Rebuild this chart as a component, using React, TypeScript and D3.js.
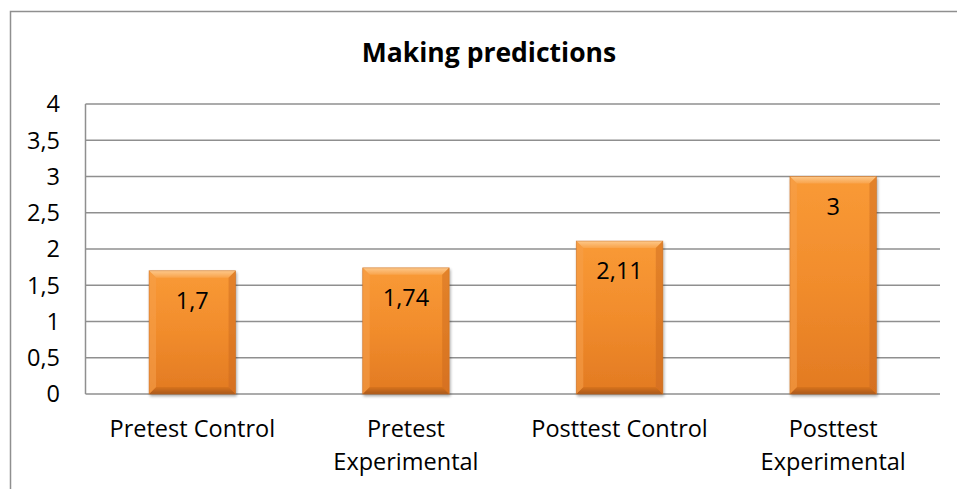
import React from "react";
import * as d3 from "d3";

const categories: string[][] = [
  ["Pretest Control"],
  ["Pretest", "Experimental"],
  ["Posttest Control"],
  ["Posttest", "Experimental"],
];
const values: number[] = [1.7, 1.74, 2.11, 3];
const valueLabels: string[] = ["1,7", "1,74", "2,11", "3"];
const yTicks: number[] = [0, 0.5, 1, 1.5, 2, 2.5, 3, 3.5, 4];
const yTickLabels: string[] = ["0", "0,5", "1", "1,5", "2", "2,5", "3", "3,5", "4"];
const title = "Making predictions";

const W = 957;
const H = 489;
const plot = { left: 85.5, right: 940, top: 104, bottom: 394 };
const FONT = "'Open Sans', 'Noto Sans', sans-serif";

export default function App() {
  const x = d3
    .scaleBand<number>()
    .domain(values.map((_, i) => i))
    .range([plot.left, plot.right])
    .paddingInner(0.595)
    .paddingOuter(0.2975);
  const y = d3.scaleLinear().domain([0, 4]).range([plot.bottom, plot.top]);
  const bw = x.bandwidth();
  const bev = 7;
  const fs = 23.5;

  return (
    <svg
      width={W}
      height={H}
      style={{ position: "absolute", left: 0, top: 0, background: "#fff" }}
      fontFamily={FONT}
    >
      <defs>
        <linearGradient id="barGrad" x1="0" y1="0" x2="0" y2="1">
          <stop offset="0" stopColor="#F99A36" />
          <stop offset="0.5" stopColor="#F18C2C" />
          <stop offset="1" stopColor="#E27A22" />
        </linearGradient>
        <linearGradient id="topBev" x1="0" y1="0" x2="0" y2="1">
          <stop offset="0" stopColor="#FDC88A" />
          <stop offset="1" stopColor="#F9A34A" />
        </linearGradient>
        <linearGradient id="botBev" x1="0" y1="0" x2="0" y2="1">
          <stop offset="0" stopColor="#D9741F" />
          <stop offset="1" stopColor="#A9581A" />
        </linearGradient>
        <filter id="shadow" x="-20%" y="-20%" width="140%" height="140%">
          <feGaussianBlur in="SourceAlpha" stdDeviation="1.5" />
          <feOffset dx="0.5" dy="1.5" result="b" />
          <feComponentTransfer>
            <feFuncA type="linear" slope="0.35" />
          </feComponentTransfer>
          <feMerge>
            <feMergeNode />
            <feMergeNode in="SourceGraphic" />
          </feMerge>
        </filter>
      </defs>

      {/* chart border */}
      <path d={`M10.5,${H + 5} V11.5 H${W + 5}`} fill="none" stroke="#8f8f8f" strokeWidth={1.5} />

      {/* title */}
      <text x={489} y={52} dy="0.36em" textAnchor="middle" fontWeight="bold" fontSize={26.5} fill="#000">
        {title}
      </text>

      {/* gridlines */}
      {yTicks.map((t) => (
        <line
          key={t}
          x1={plot.left}
          x2={plot.right}
          y1={y(t)}
          y2={y(t)}
          stroke="#8f8f8f"
          strokeWidth={1.5}
        />
      ))}
      <line x1={plot.left} x2={plot.left} y1={plot.top} y2={plot.bottom} stroke="#8f8f8f" strokeWidth={1.5} />

      {/* y tick labels */}
      {yTicks.map((t, i) => (
        <text key={t} x={60} y={y(t)} dy="0.36em" textAnchor="end" fontSize={fs} fill="#000">
          {yTickLabels[i]}
        </text>
      ))}

      {/* bars */}
      {values.map((v, i) => {
        const x0 = x(i)!;
        const x1 = x0 + bw;
        const y0 = y(v);
        const y1 = y(0);
        return (
          <g key={i} filter="url(#shadow)">
            <rect x={x0} y={y0} width={bw} height={y1 - y0} fill="url(#barGrad)" />
            <polygon
              points={`${x0},${y0} ${x1},${y0} ${x1 - bev},${y0 + bev} ${x0 + bev},${y0 + bev}`}
              fill="url(#topBev)"
            />
            <polygon
              points={`${x0},${y1} ${x1},${y1} ${x1 - bev},${y1 - bev} ${x0 + bev},${y1 - bev}`}
              fill="url(#botBev)"
            />
            <polygon
              points={`${x0},${y0} ${x0 + bev},${y0 + bev} ${x0 + bev},${y1 - bev} ${x0},${y1}`}
              fill="#F5A04C"
              opacity={0.55}
            />
            <polygon
              points={`${x1},${y0} ${x1 - bev},${y0 + bev} ${x1 - bev},${y1 - bev} ${x1},${y1}`}
              fill="#C8661C"
              opacity={0.45}
            />
            <rect x={x0} y={y0} width={bw} height={y1 - y0} fill="none" stroke="#C46A22" strokeWidth={0.8} opacity={0.6} />
          </g>
        );
      })}

      {/* value labels */}
      {values.map((v, i) => (
        <text
          key={i}
          x={x(i)! + bw / 2}
          y={y(v) + 30}
          dy="0.36em"
          textAnchor="middle"
          fontSize={fs}
          fill="#000"
        >
          {valueLabels[i]}
        </text>
      ))}

      {/* category labels */}
      {categories.map((lines, i) => (
        <text key={i} x={x(i)! + bw / 2} textAnchor="middle" fontSize={fs} fill="#000">
          {lines.map((l, j) => (
            <tspan key={j} x={x(i)! + bw / 2} y={429 + j * 33} dy="0.36em">
              {l}
            </tspan>
          ))}
        </text>
      ))}
    </svg>
  );
}
